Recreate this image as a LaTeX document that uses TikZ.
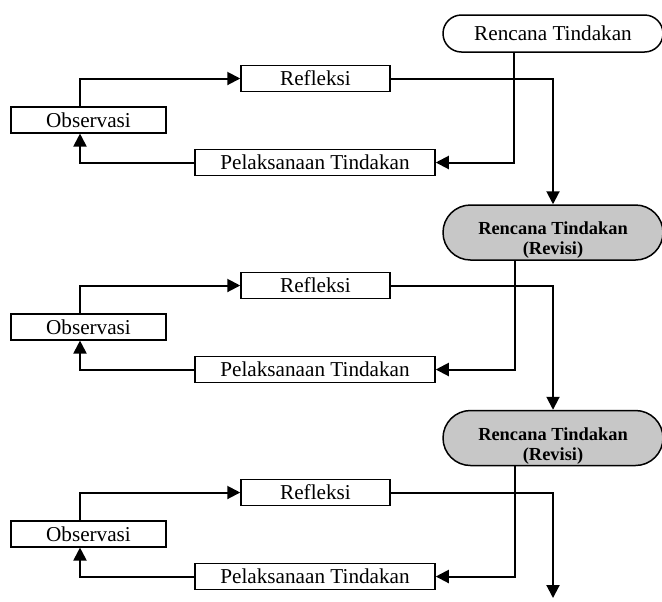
\documentclass[tikz,border=0pt]{standalone}
\usepackage{fontspec}
\setmainfont{Liberation Serif}
\usetikzlibrary{arrows.meta, shapes.misc, calc}
\newcommand{\relationUp}[3]
{
	\draw[conn] ($(#3.north)+(#1,0)$) |- (#2.west)
}
\newcommand{\relationBack}[3]
{
	\draw[conn] (#3.west) -| ($(#2.south)+(#1,0)$)
}
\newcommand{\relationIn}[3]
{
	\draw[conn] ($(#3.south)+(#1,0)$) |- (#2.east)
}
\newcommand{\relationOut}[2]
{
	\draw[conn] (#2.east) -| (#1.north)
}

\begin{document}
\begin{tikzpicture}[x=0.5pt, y=-0.5pt,
			font=\fontsize{10.6}{12.7}\selectfont,
			box/.style={draw=black,
				line width=0.75pt,
				inner sep=0,
				minimum height=12.8pt},
			plan/.style={shape=rounded rectangle,
				draw=black,
				line width=0.75pt,
				inner sep=0,
				minimum width=110pt},
			revisi/.style={plan,
				fill=black!22,
				minimum height=27.5pt,
				align=center,
				text height=24pt,
				font=\fontsize{9.2}{10}\selectfont\bfseries},
			conn/.style={line width=1pt, -{Triangle[length=6.5pt,width=6.5pt]}}]

			\useasboundingbox (0,0) rectangle (662,601);

			\node[plan, minimum height=18.5pt] at (553, 33.5) (rencana){Rencana Tindakan};
			\node[revisi] at (553, 232.5) (revisiA){Rencana Tindakan\\(Revisi)};
			\node[revisi] at (553, 438) (revisiB){Rencana Tindakan\\(Revisi)};

			% siklus 1
			\node[box, minimum width=74.5pt] at (315.5, 78.5) (refleksiA){Refleksi};
			\node[box, minimum width=77.5pt] at (88.5, 120) (observasiA){Observasi};
			\node[box, minimum width=120pt] at (315, 162.5) (pelaksanaanA){Pelaksanaan Tindakan};

			% siklus 2
			\node[box, minimum width=74.5pt] at (315.5, 285.5) (refleksiB){Refleksi};
			\node[box, minimum width=77.5pt] at (88.5, 327) (observasiB){Observasi};
			\node[box, minimum width=120pt] at (315, 369.5) (pelaksanaanB){Pelaksanaan Tindakan};

			% siklus 3
			\node[box, minimum width=74.5pt] at (315.5, 492.5) (refleksiC){Refleksi};
			\node[box, minimum width=77.5pt] at (88.5, 534) (observasiC){Observasi};
			\node[box, minimum width=120pt] at (315, 576.5) (pelaksanaanC){Pelaksanaan Tindakan};

			\coordinate (akhir) at (553, 598);

			\relationIn{-39}{pelaksanaanA}{rencana};
			\relationBack{-8.5}{observasiA}{pelaksanaanA};
			\relationUp{-8.5}{refleksiA}{observasiA};
			\relationOut{revisiA}{refleksiA};

			\relationIn{-38}{pelaksanaanB}{revisiA};
			\relationBack{-8.5}{observasiB}{pelaksanaanB};
			\relationUp{-8.5}{refleksiB}{observasiB};
			\relationOut{revisiB}{refleksiB};

			\relationIn{-38}{pelaksanaanC}{revisiB};
			\relationBack{-8.5}{observasiC}{pelaksanaanC};
			\relationUp{-8.5}{refleksiC}{observasiC};
			\draw[conn] (refleksiC.east) -| (akhir);
		\end{tikzpicture}
\end{document}
